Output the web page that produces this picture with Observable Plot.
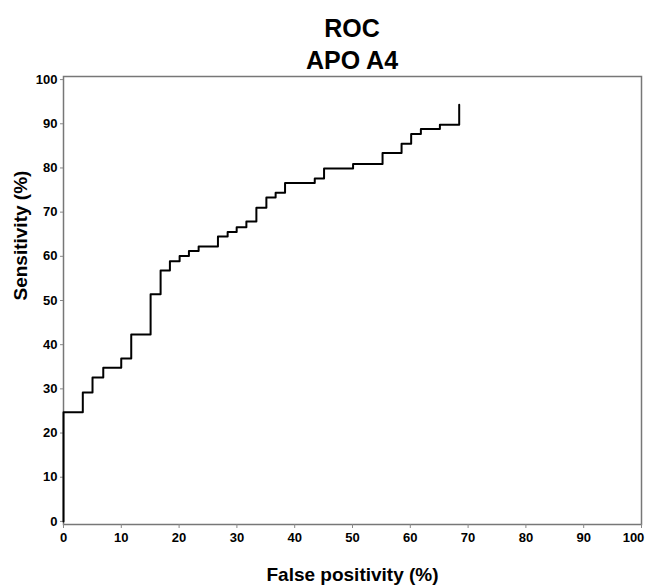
<!DOCTYPE html>
<html>
<head>
<meta charset="utf-8">
<script src="https://cdn.jsdelivr.net/npm/d3@7"></script>
<script src="https://cdn.jsdelivr.net/npm/@observablehq/plot@0.6"></script>
<style>
  html, body { margin: 0; padding: 0; background: #fff; }
  body { width: 649px; height: 585px; overflow: hidden; font-family: "Liberation Sans", Arial, sans-serif; }
  #title { position: relative; height: 70px; }
  #title div { position: absolute; left: 55px; right: 0; text-align: center; font-weight: bold; font-size: 25px; line-height: 32px; color: #000; }
  #chart svg { display: block; overflow: visible; }
</style>
</head>
<body>
<div id="title"><div style="top:12px">ROC</div><div style="top:44px">APO A4</div></div>
<div id="chart"></div>
<script>
// ROC curve points (false positivity %, sensitivity %)
const falsePositivity = [0, 0, 3.34, 5.02, 6.88, 9.99, 11.72, 15.07, 16.8, 18.41, 20.09, 21.7, 23.38, 26.72, 28.4, 29.96, 31.64, 33.37, 35.1, 36.7, 38.33, 43.47, 45.08, 50.1, 55.2, 58.49, 60.15, 61.83, 65.12, 68.46];
const sensitivity =     [0, 24.7, 29.2, 32.6, 34.8, 36.9, 42.3, 51.4, 56.8, 58.9, 60.1, 61.2, 62.2, 64.5, 65.5, 66.6, 67.9, 71.0, 73.3, 74.4, 76.6, 77.6, 79.9, 80.9, 83.4, 85.5, 87.7, 88.8, 89.8, 94.3];
const xTicks = [0, 10, 20, 30, 40, 50, 60, 70, 80, 90, 100];
const yTicks = [0, 10, 20, 30, 40, 50, 60, 70, 80, 90, 100];
const xLabel = "False positivity (%)";
const yLabel = "Sensitivity (%)";

const data = falsePositivity.map((x, i) => ({x, y: sensitivity[i]}));
const lastX = xTicks[xTicks.length - 1];

const chart = Plot.plot({
  width: 649,
  height: 515,
  marginTop: 6,
  marginBottom: 61,
  marginLeft: 63,
  marginRight: 8,
  style: {fontFamily: "'Liberation Sans', Arial, sans-serif", color: "#000", background: "#fff", overflow: "visible"},
  x: {domain: [0, 100]},
  y: {domain: [-0.7, 100.7]},
  marks: [
    Plot.frame({stroke: "#777", strokeWidth: 1.5}),
    Plot.axisX({ticks: xTicks, tickSize: 4, tickPadding: 4, fontSize: 13, fontWeight: "bold", stroke: "#888", label: null,
      tickFormat: d => d === lastX ? "" : String(d)}),
    Plot.axisX({ticks: [lastX], tickSize: 0, tickPadding: 8, dx: -8, fontSize: 13, fontWeight: "bold", label: null}),
    Plot.axisY({ticks: yTicks, tickSize: 3, tickPadding: 3, fontSize: 13, fontWeight: "bold", stroke: "#888", label: null}),
    Plot.line(data, {x: "x", y: "y", curve: "step-after", stroke: "#000", strokeWidth: 2}),
    Plot.text([xLabel], {frameAnchor: "bottom", dy: 56, fontSize: 19, fontWeight: "bold", fill: "#000"}),
    Plot.text([yLabel], {frameAnchor: "left", dx: -43, rotate: -90, fontSize: 19, fontWeight: "bold", fill: "#000"})
  ]
});
document.getElementById("chart").appendChild(chart);
</script>
</body>
</html>
